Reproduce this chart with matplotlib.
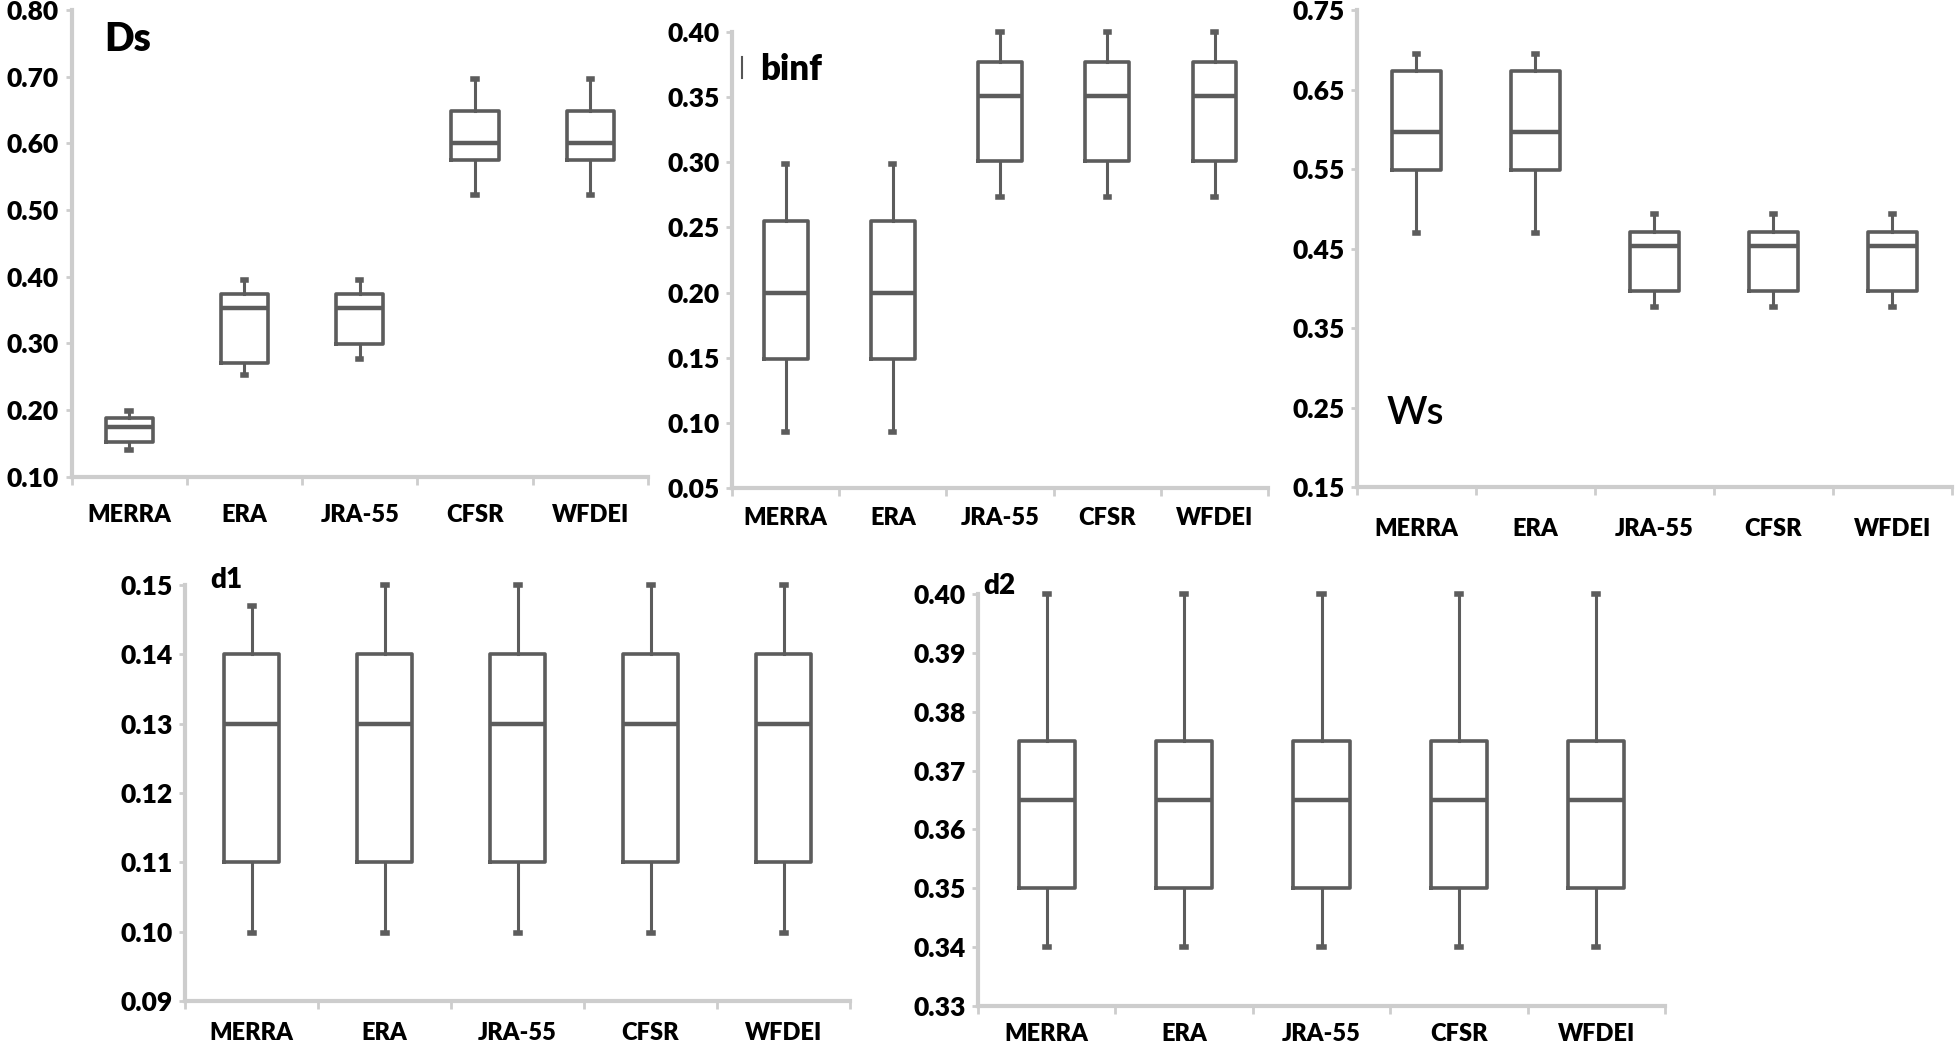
import numpy as np
import matplotlib
matplotlib.use('Agg')
import matplotlib.pyplot as plt

plt.rcParams['font.family'] = ['Lato', 'DejaVu Sans']

categories = ['MERRA', 'ERA', 'JRA-55', 'CFSR', 'WFDEI']

# five-number summaries: low whisker, q1, median, q3, high whisker
ds_low = [0.14, 0.252, 0.276, 0.522, 0.522]
ds_q1 = [0.152, 0.271, 0.299, 0.575, 0.575]
ds_med = [0.174, 0.353, 0.353, 0.600, 0.600]
ds_q3 = [0.188, 0.374, 0.374, 0.649, 0.649]
ds_high = [0.199, 0.395, 0.395, 0.697, 0.697]

binf_low = [0.093, 0.093, 0.273, 0.273, 0.273]
binf_q1 = [0.149, 0.149, 0.301, 0.301, 0.301]
binf_med = [0.200, 0.200, 0.351, 0.351, 0.351]
binf_q3 = [0.255, 0.255, 0.377, 0.377, 0.377]
binf_high = [0.299, 0.299, 0.400, 0.400, 0.400]

ws_low = [0.469, 0.469, 0.377, 0.377, 0.377]
ws_q1 = [0.549, 0.549, 0.397, 0.397, 0.397]
ws_med = [0.597, 0.597, 0.453, 0.453, 0.453]
ws_q3 = [0.673, 0.673, 0.471, 0.471, 0.471]
ws_high = [0.695, 0.695, 0.493, 0.493, 0.493]

d1_low = [0.0998, 0.0998, 0.0998, 0.0998, 0.0998]
d1_q1 = [0.110, 0.110, 0.110, 0.110, 0.110]
d1_med = [0.130, 0.130, 0.130, 0.130, 0.130]
d1_q3 = [0.140, 0.140, 0.140, 0.140, 0.140]
d1_high = [0.147, 0.150, 0.150, 0.150, 0.150]

d2_low = [0.340, 0.340, 0.340, 0.340, 0.340]
d2_q1 = [0.350, 0.350, 0.350, 0.350, 0.350]
d2_med = [0.365, 0.365, 0.365, 0.365, 0.365]
d2_q3 = [0.375, 0.375, 0.375, 0.375, 0.375]
d2_high = [0.400, 0.400, 0.400, 0.400, 0.400]

ds_ticks = [0.10, 0.20, 0.30, 0.40, 0.50, 0.60, 0.70, 0.80]
binf_ticks = [0.05, 0.10, 0.15, 0.20, 0.25, 0.30, 0.35, 0.40]
ws_ticks = [0.15, 0.25, 0.35, 0.45, 0.55, 0.65, 0.75]
d1_ticks = [0.09, 0.10, 0.11, 0.12, 0.13, 0.14, 0.15]
d2_ticks = [0.33, 0.34, 0.35, 0.36, 0.37, 0.38, 0.39, 0.40]

BOX = '#5c5c5c'
AXIS = '#cdcdcd'
W = 'heavy'

fig = plt.figure(figsize=(19.6, 10.42), dpi=100)


def panel(rect, low, q1, med, q3, high, ticks, xpad):
    ax = fig.add_axes(rect)
    stats = [dict(whislo=a, q1=b, med=c, q3=d, whishi=e, fliers=[])
             for a, b, c, d, e in zip(low, q1, med, q3, high)]
    art = ax.bxp(stats, positions=range(1, 6), widths=0.41, showfliers=False,
                 capwidths=0.03,
                 boxprops=dict(color=BOX, linewidth=2.6),
                 whiskerprops=dict(color=BOX, linewidth=2.2),
                 capprops=dict(color=BOX, linewidth=4),
                 medianprops=dict(color=BOX, linewidth=3.2))
    for key in art:
        for a in art[key]:
            a.set_clip_on(False)
    ax.set_xlim(0.5, 5.5)
    ax.set_ylim(ticks[0], ticks[-1])
    ax.set_yticks(ticks)
    ax.set_yticklabels(['%.2f' % t for t in ticks], fontsize=19, fontweight=W)
    ax.set_xticks(range(1, 6))
    ax.set_xticklabels(categories, fontsize=17, fontweight=W)
    ax.set_xticks(np.arange(0.5, 6, 1), minor=True)
    ax.tick_params(axis='x', which='major', length=0, pad=xpad)
    ax.tick_params(axis='x', which='minor', length=6, width=2, color=AXIS)
    ax.tick_params(axis='y', length=4, width=2, color=AXIS, pad=5)
    for s in ['top', 'right']:
        ax.spines[s].set_visible(False)
    for s in ['left', 'bottom']:
        ax.spines[s].set_color(AXIS)
        ax.spines[s].set_linewidth(3)
    return ax


ax1 = panel([0.0365, 0.5426, 0.2941, 0.4478], ds_low, ds_q1, ds_med, ds_q3, ds_high, ds_ticks, 20)
ax1.text(0.056, 0.936, 'Ds', transform=ax1.transAxes, fontsize=28, fontweight=W, va='center')

ax2 = panel([0.3735, 0.5317, 0.2735, 0.4376], binf_low, binf_q1, binf_med, binf_q3, binf_high, binf_ticks, 14)
ax2.text(0.052, 0.917, 'binf', transform=ax2.transAxes, fontsize=25, fontweight=W, va='center')
ax2.plot([0.019, 0.019], [0.90, 0.945], transform=ax2.transAxes, color='#555555', lw=1.5)

ax3 = panel([0.6923, 0.5326, 0.3036, 0.4578], ws_low, ws_q1, ws_med, ws_q3, ws_high, ws_ticks, 22)
ax3.text(0.049, 0.155, 'Ws', transform=ax3.transAxes, fontsize=28, fontweight='semibold', va='center')

ax4 = panel([0.0944, 0.0393, 0.3393, 0.3993], d1_low, d1_q1, d1_med, d1_q3, d1_high, d1_ticks, 15)
ax4.text(0.038, 1.012, 'd1', transform=ax4.transAxes, fontsize=20, fontweight=W, va='center')

ax5 = panel([0.4990, 0.0345, 0.3505, 0.3954], d2_low, d2_q1, d2_med, d2_q3, d2_high, d2_ticks, 12)
ax5.text(0.007, 1.02, 'd2', transform=ax5.transAxes, fontsize=20, fontweight=W, va='center')

fig.savefig('out.png', dpi=100, facecolor='white')
